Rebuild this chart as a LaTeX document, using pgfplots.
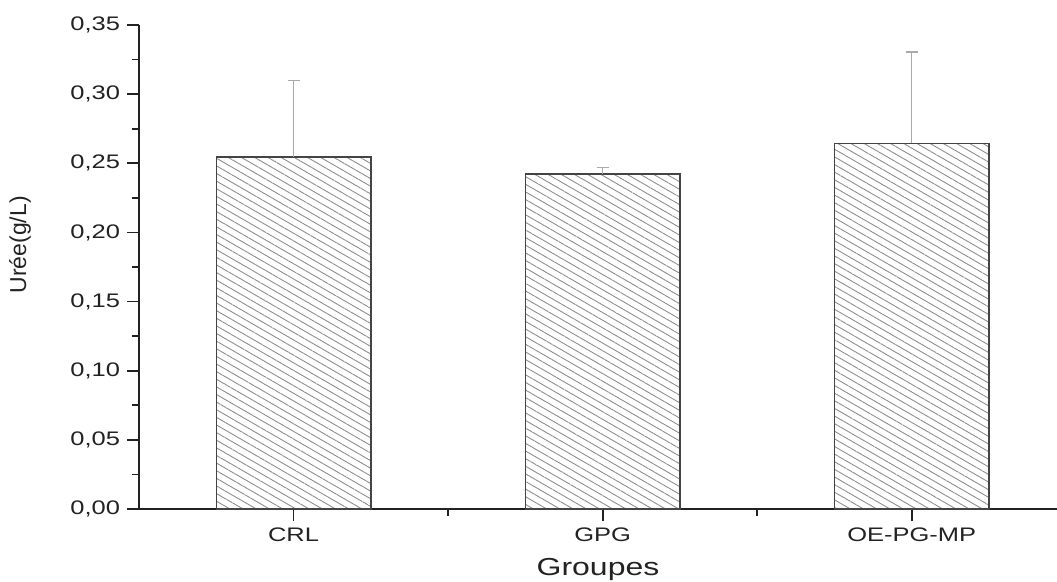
\documentclass[border=0pt]{standalone}
\usepackage{fontspec}
\setmainfont[FakeStretch=1.3]{Liberation Sans}
\newfontfamily\ylabfont{Liberation Sans}
\usepackage{pgfplots}
\pgfplotsset{compat=1.18}
\usetikzlibrary{patterns.meta}
\definecolor{axcol}{HTML}{222222}
\definecolor{barcol}{HTML}{444444}
\definecolor{hatchcol}{HTML}{8E8E8E}
\definecolor{errcol}{HTML}{AAAAAA}
\begin{document}
\begin{tikzpicture}
\useasboundingbox (-69.5pt,-36.5pt) rectangle (459pt,254.5pt);
\begin{axis}[
  at={(0,0)}, anchor=south west,
  scale only axis, width=459pt, height=242pt,
  xmin=0.5, xmax=3.47, ymin=0, ymax=0.35,
  axis x line=bottom, axis y line=left,
  axis line style={-, axcol, line width=1pt},
  tick align=outside,
  major tick length=6pt, minor tick length=3.5pt,
  tick style={axcol, line width=0.9pt},
  xtick={1,2,3}, xticklabels={CRL,GPG,OE-PG-MP},
  minor xtick={1.5,2.5},
  ytick={0,0.05,...,0.351}, minor ytick={0.025,0.075,...,0.33},
  /pgf/number format/assume math mode=true,
  yticklabel style={/pgf/number format/.cd, fixed, fixed zerofill, precision=2, use comma},
  ticklabel style={font=\fontsize{9.8}{11}\selectfont, text=axcol},
  xlabel={Groupes},
  xlabel style={font=\fontsize{12.3}{14}\selectfont, text=axcol, yshift=-1.5pt},
  ylabel={\ylabfont Urée(g/L)},
  ylabel style={font=\fontsize{11.5}{13}\selectfont, text=axcol, at={(axis description cs:-0.1296,0.546)}, anchor=center},
  clip=false,
]
\addplot[ybar, bar width=0.5, draw=barcol, line width=0.7pt,
  pattern={Lines[angle=-30, distance=3.3pt, line width=0.45pt]}, pattern color=hatchcol,
  error bars/.cd, y dir=plus, y explicit,
  error bar style={errcol, line width=0.6pt},
  error mark options={rotate=90, mark size=3pt, errcol, line width=0.6pt}]
coordinates {
  (1,0.2545) +- (0,0.0555)
  (2,0.2422) +- (0,0.0050)
  (3,0.2645) +- (0,0.0660)
};
\end{axis}
\end{tikzpicture}
\end{document}
